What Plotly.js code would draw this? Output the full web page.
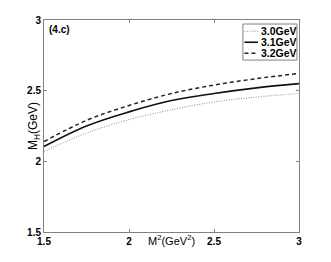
<!DOCTYPE html>
<html><head><meta charset="utf-8">
<script src="https://cdn.plot.ly/plotly-3.0.1.min.js"></script>
<style>html,body{margin:0;padding:0;background:#fff}#chart{width:331px;height:262px}</style>
</head><body><div id="chart"></div>
<script>
const m2 = [1.5, 1.75, 2.0, 2.25, 2.5, 2.75, 3.0];
const mh30 = [2.07, 2.20, 2.295, 2.365, 2.42, 2.455, 2.48];
const mh31 = [2.105, 2.25, 2.35, 2.43, 2.48, 2.52, 2.55];
const mh32 = [2.14, 2.29, 2.395, 2.48, 2.54, 2.585, 2.622];
const seriesNames = ['3.0GeV', '3.1GeV', '3.2GeV'];
const tickVals = [1.5, 2, 2.5, 3];
const tickText = ['1.5', '2', '2.5', '3'];

const FONT = 'Liberation Sans, Arial, Helvetica, sans-serif';
const styles = [
  {color: '#8a8a8a', width: 1, dash: '1px,1.5px'},
  {color: '#111111', width: 1.6, dash: 'solid'},
  {color: '#222222', width: 1.5, dash: '4px,3px'}
];
const ys = [mh30, mh31, mh32];
const traces = ys.map((y, i) => ({
  x: m2, y: y, type: 'scatter', mode: 'lines', name: seriesNames[i],
  line: {color: styles[i].color, width: styles[i].width, dash: styles[i].dash, shape: 'spline'},
  showlegend: false
}));

// custom legend (paper coords)
const legRows = [0.947, 0.895, 0.843];
const shapes = [{type: 'rect', xref: 'paper', yref: 'paper', x0: 0.780, x1: 0.992, y0: 0.811, y1: 0.981,
  line: {color: '#808080', width: 1}, fillcolor: '#ffffff'}];
const annotations = [];
seriesNames.forEach((n, i) => {
  shapes.push({type: 'line', xref: 'paper', yref: 'paper', x0: 0.786, x1: 0.839, y0: legRows[i], y1: legRows[i],
    line: {color: styles[i].color, width: styles[i].width, dash: styles[i].dash}});
  annotations.push({xref: 'paper', yref: 'paper', x: 0.842, y: legRows[i], xanchor: 'left', yanchor: 'middle',
    text: '<b>' + n + '</b>', showarrow: false, font: {family: FONT, size: 10.5, color: '#000'}});
});
annotations.push({xref: 'paper', yref: 'paper', x: 0.012, y: 0.955, xanchor: 'left', yanchor: 'middle',
  text: '<b>(4.c)</b>', showarrow: false, font: {family: FONT, size: 10, color: '#000'}});
annotations.push({xref: 'paper', yref: 'paper', x: 0.5, y: -0.04, xanchor: 'center', yanchor: 'middle',
  text: 'M<sup>2</sup>(GeV<sup>2</sup>)', showarrow: false, font: {family: FONT, size: 11, color: '#000'}});
annotations.push({xref: 'paper', yref: 'paper', x: -0.039, y: 0.5, xanchor: 'center', yanchor: 'middle',
  textangle: -90, text: 'M<sub>H</sub>(GeV)', showarrow: false, font: {family: FONT, size: 12, color: '#000'}});

const axisCommon = {
  showgrid: false, zeroline: false, showline: true, linecolor: '#808080', linewidth: 1,
  mirror: 'ticks', ticks: 'inside', ticklen: 3, tickcolor: '#808080', tickwidth: 1,
  tickvals: tickVals, ticktext: tickText,
  tickfont: {family: FONT, size: 10, color: '#000', weight: 'bold'}
};
const layout = {
  width: 331, height: 262,
  margin: {l: 44, r: 32, t: 20, b: 30},
  paper_bgcolor: '#fff', plot_bgcolor: '#fff',
  xaxis: Object.assign({}, axisCommon, {range: [1.5, 3]}),
  yaxis: Object.assign({}, axisCommon, {range: [1.5, 3]}),
  shapes: shapes, annotations: annotations,
  showlegend: false
};
Plotly.newPlot('chart', traces, layout, {staticPlot: true, displayModeBar: false});
</script></body></html>
